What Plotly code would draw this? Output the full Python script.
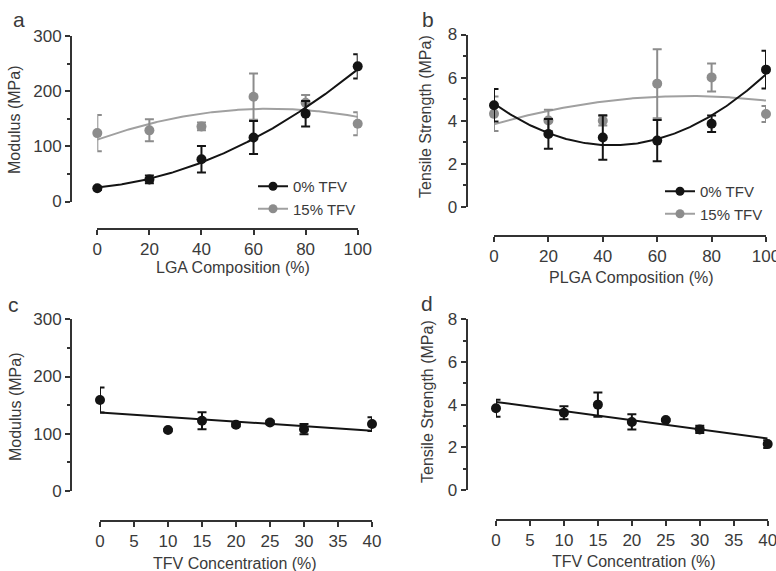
import numpy as np
import plotly.graph_objects as go

# ---------------- data ----------------
comp_x = [0, 20, 40, 60, 80, 100]

# panel a: modulus vs composition
mod_0tfv = [24, 40, 76.5, 116, 159, 245]
mod_0tfv_err = [3, 7, 24, 30, 23, 22]
mod_15tfv = [124, 129, 136, 190, 179, 141]
mod_15tfv_err = [33, 20, 7, 42, 14, 21]

# panel b: tensile strength vs composition
ts_0tfv = [4.72, 3.39, 3.22, 3.08, 3.86, 6.37]
ts_0tfv_err = [0.75, 0.69, 1.03, 0.96, 0.38, 0.88]
ts_15tfv = [4.32, 4.01, 4.00, 5.72, 6.01, 4.31]
ts_15tfv_err = [0.8, 0.5, 0.22, 1.6, 0.65, 0.37]

# panels c, d: vs TFV concentration
tfv_x = [0, 10, 15, 20, 25, 30, 40]
mod_tfv = [159, 106.5, 122.7, 115.7, 119.8, 108, 117]
mod_tfv_err = [22, 2, 15, 3, 3, 9, 12]
ts_tfv = [3.83, 3.62, 4.0, 3.19, 3.28, 2.84, 2.15]
ts_tfv_err = [0.4, 0.3, 0.57, 0.36, 0.05, 0.17, 0.18]

comp_ticks = [0, 20, 40, 60, 80, 100]
tfv_ticks = [0, 5, 10, 15, 20, 25, 30, 35, 40]

# ---------------- style ----------------
W, H = 776, 571
BLACK = "#141414"
GREY_M = "#8c8c8c"
GREY_L = "#a0a0a0"
TXT = "#3a3a3a"
AX = "#333333"
FONT = "Arial, Liberation Sans, Helvetica, sans-serif"


def fx(px):
    return px / W


def fy(py):
    return 1 - py / H


def fit(x, y, deg, xmax):
    c = np.polyfit(x, y, deg)
    xs = np.linspace(0, xmax, 201)
    return xs, np.polyval(c, xs)


fig = go.Figure()


def add_series(x, y, err, color, linecolor, deg, xmax, xa, ya):
    xs, ys = fit(x, y, deg, xmax)
    fig.add_trace(go.Scatter(x=xs, y=ys, mode="lines", xaxis=xa, yaxis=ya,
                             line=dict(color=linecolor, width=2),
                             showlegend=False, hoverinfo="skip", cliponaxis=False))
    fig.add_trace(go.Scatter(x=x, y=y, mode="markers", xaxis=xa, yaxis=ya,
                             marker=dict(color=color, size=10),
                             error_y=dict(type="data", array=err, color=color,
                                          thickness=2, width=4.5),
                             showlegend=False, cliponaxis=False))


# panel a
add_series(comp_x, mod_15tfv, mod_15tfv_err, GREY_M, GREY_L, 2, 100, "x", "y")
add_series(comp_x, mod_0tfv, mod_0tfv_err, BLACK, BLACK, 2, 100, "x", "y")
# panel b
add_series(comp_x, ts_15tfv, ts_15tfv_err, GREY_M, GREY_L, 2, 100, "x2", "y2")
add_series(comp_x, ts_0tfv, ts_0tfv_err, BLACK, BLACK, 2, 100, "x2", "y2")
# panel c, d
add_series(tfv_x, mod_tfv, mod_tfv_err, BLACK, BLACK, 1, 40, "x3", "y3")
add_series(tfv_x, ts_tfv, ts_tfv_err, BLACK, BLACK, 1, 40, "x4", "y4")

# legend entries
for lg, xa, ya in (("legend", "x", "y"), ("legend2", "x2", "y2")):
    fig.add_trace(go.Scatter(x=[None], y=[None], mode="lines+markers", name="0% TFV",
                             xaxis=xa, yaxis=ya, legend=lg,
                             line=dict(color=BLACK, width=2),
                             marker=dict(color=BLACK, size=9)))
    fig.add_trace(go.Scatter(x=[None], y=[None], mode="lines+markers", name="15% TFV",
                             xaxis=xa, yaxis=ya, legend=lg,
                             line=dict(color=GREY_L, width=2),
                             marker=dict(color=GREY_M, size=9)))

tickfont = dict(family=FONT, size=17, color=TXT)


def xaxis(dom, pos, rng, ticks):
    return dict(domain=[fx(dom[0]), fx(dom[1])], anchor="free", position=fy(pos),
                range=rng, tickvals=ticks, showgrid=False, zeroline=False,
                showline=True, linecolor=AX, linewidth=2,
                ticks="outside", ticklen=5, tickwidth=2, tickcolor=AX,
                ticklabeloverflow="allow",
                tickfont=tickfont, fixedrange=True)


def yaxis(top, bottom, pos, rng, dtick, minor):
    return dict(domain=[fy(bottom), fy(top)], anchor="free", position=fx(pos),
                range=rng, dtick=dtick, tick0=0, showgrid=False, zeroline=False,
                showline=True, linecolor=AX, linewidth=2,
                ticks="outside", ticklen=5, tickwidth=2, tickcolor=AX,
                minor=dict(dtick=minor, tick0=0, ticks="outside", ticklen=3,
                           tickwidth=2, tickcolor=AX, showgrid=False),
                ticklabeloverflow="allow",
                tickfont=tickfont, fixedrange=True)


legfont = dict(family=FONT, size=15, color=TXT)

fig.update_layout(
    width=W, height=H,
    margin=dict(l=0, r=0, t=0, b=0, autoexpand=False),
    paper_bgcolor="white", plot_bgcolor="white",
    font=dict(family=FONT, color=TXT),
    xaxis=xaxis((97.3, 357.7), 229, [0, 100], comp_ticks),
    yaxis=yaxis(36, 201.5, 71, [0, 300], 100, 50),
    xaxis2=xaxis((494, 766), 236, [0, 100], comp_ticks),
    yaxis2=yaxis(34.5, 207, 466.5, [0, 8], 2, 1),
    xaxis3=xaxis((100, 372), 521, [0, 40], tfv_ticks),
    yaxis3=yaxis(319.3, 491, 71, [0, 300], 100, 50),
    xaxis4=xaxis((496, 767.7), 520, [0, 40], tfv_ticks),
    yaxis4=yaxis(319.3, 490, 466.5, [0, 8], 2, 1),
    legend=dict(x=fx(253), y=fy(170), xanchor="left", yanchor="top",
                bgcolor="rgba(0,0,0,0)", font=legfont, tracegroupgap=0),
    legend2=dict(x=fx(660), y=fy(175), xanchor="left", yanchor="top",
                 bgcolor="rgba(0,0,0,0)", font=legfont, tracegroupgap=0),
    showlegend=True,
)

annots = [
    ("a", 19, 19, 0, 21), ("b", 428, 19, 0, 21), ("c", 14, 304, 0, 21), ("d", 427, 303, 0, 21),
    ("Modulus (MPa)", 15, 120, -90, 16),
    ("Tensile Strength (MPa)", 425, 117, -90, 16),
    ("Modulus (MPa)", 15, 407, -90, 16),
    ("Tensile Strength (MPa)", 427, 402, -90, 16),
    ("LGA Composition (%)", 233, 267, 0, 16),
    ("PLGA Composition (%)", 631, 277, 0, 16),
    ("TFV Concentration (%)", 235, 563, 0, 16),
    ("TFV Concentration (%)", 634, 561, 0, 16),
]
for text, px, py, ang, sz in annots:
    fig.add_annotation(text=text, x=fx(px), y=fy(py), xref="paper", yref="paper",
                       xanchor="center", yanchor="middle", showarrow=False,
                       textangle=ang, font=dict(family=FONT, size=sz, color=TXT))

fig.write_html("out.html")
